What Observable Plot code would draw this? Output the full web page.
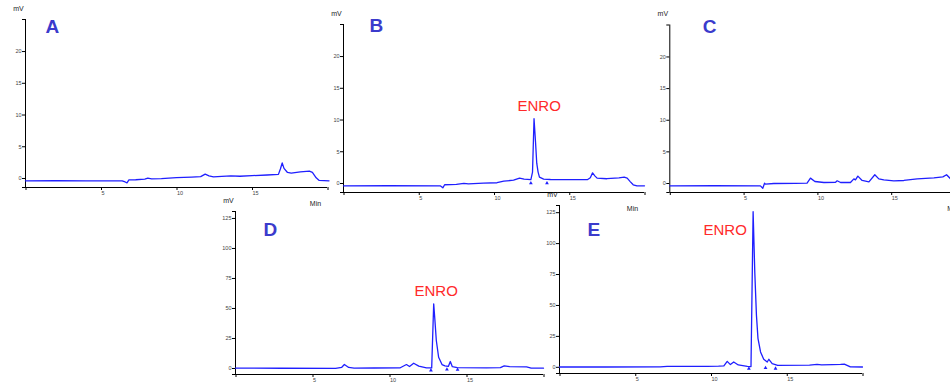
<!DOCTYPE html>
<html><head><meta charset="utf-8">
<script src="https://cdn.jsdelivr.net/npm/d3@7"></script>
<script src="https://cdn.jsdelivr.net/npm/@observablehq/plot@0.6"></script>
<style>
body{margin:0;background:#fff;}
#chart{position:relative;width:950px;height:385px;overflow:hidden;background:#fff;font-family:"Liberation Sans",Arial,sans-serif;}
#chart svg{position:absolute;left:0;top:0;background:none !important;max-width:none !important;overflow:visible;}
</style></head><body><div id="chart"></div>
<script>
// ---- data: [time (min), signal (mV)] ----
const traceA = [[0,-0.37],[2,-0.36],[4,-0.37],[6.4,-0.37],[6.6,-0.55],[6.72,-0.7],[6.85,-0.22],[7.3,-0.2],[7.9,-0.1],[8.1,0.05],[8.35,-0.05],[9,-0.02],[10,0.12],[11,0.22],[11.6,0.3],[11.9,0.68],[12.15,0.42],[12.45,0.25],[13,0.32],[13.6,0.42],[14.2,0.35],[15,0.45],[16,0.55],[16.75,0.65],[16.88,1.5],[17.0,2.45],[17.12,1.6],[17.35,0.95],[17.6,0.85],[18.2,1.05],[18.8,1.15],[19.0,0.95],[19.25,0.1],[19.45,-0.3],[20.1,-0.37]];
const traceB = [[0,-0.37],[3,-0.36],[6.45,-0.38],[6.6,-0.68],[6.72,-0.2],[7.5,-0.15],[8.0,0.02],[8.3,-0.05],[9.3,0.05],[10.2,0.12],[10.65,0.37],[11.3,0.52],[11.7,0.85],[12.0,0.68],[12.45,0.6],[12.56,1.8],[12.66,10.2],[12.76,6.5],[12.84,3.2],[12.93,1.8],[13.02,1.0],[13.3,0.7],[13.75,0.63],[14.6,0.6],[16.2,0.6],[16.4,0.9],[16.55,1.68],[16.7,1.2],[16.85,0.85],[17.5,0.75],[18.3,0.9],[18.65,1.0],[18.85,0.85],[19.05,0.3],[19.25,-0.2],[19.5,-0.37],[20,-0.37]];
const traceC = [[0,-0.37],[3,-0.35],[6.14,-0.37],[6.3,-0.74],[6.42,0.05],[6.48,-0.1],[7.05,0],[8.5,0.02],[9.3,0.05],[9.53,0.85],[9.83,0.32],[10.44,0.16],[11.23,0.2],[11.34,0.43],[11.57,0.16],[12.24,0.16],[12.47,0.74],[12.58,0.58],[12.74,1.17],[13.03,0.48],[13.49,0.27],[13.89,1.38],[14.16,0.74],[14.5,0.58],[15.18,0.43],[15.86,0.48],[16.76,0.74],[17.89,0.9],[18.5,1.05],[18.75,1.38],[19.02,0.74],[19.3,-0.1],[19.6,-0.37],[20,-0.37]];
const traceD = [[0,0.3],[3,0.2],[6.5,0.1],[6.9,1.0],[7.07,3.3],[7.35,0.9],[7.7,0.3],[9,0.4],[10.7,0.6],[11.1,3.3],[11.3,1.6],[11.57,4.4],[11.9,2.0],[12.4,0.6],[12.74,0.5],[12.87,53.9],[12.95,40],[13.04,23.3],[13.19,9.4],[13.41,3.3],[13.6,2.2],[13.82,1.7],[13.95,5.8],[14.08,1.5],[14.4,0.8],[16.3,0.6],[17.2,0.8],[17.45,2.2],[17.8,1.5],[18.9,1.4],[19.2,0.3],[20,0.3]];
const traceE = [[0,0.27],[3,0.27],[6.65,0.3],[7.1,0.8],[9.75,0.8],[10.5,1.0],[10.85,1.2],[11.07,4.8],[11.28,2.2],[11.5,4.3],[11.8,1.9],[12.4,0.8],[12.64,0.6],[12.78,125.8],[12.89,76.9],[13.0,42],[13.1,23.4],[13.27,12.4],[13.48,6.5],[13.71,4.3],[13.82,6.5],[14.04,3.0],[14.4,1.6],[16.5,1.8],[17.0,2.4],[17.3,2.0],[18.0,2.2],[18.55,2.4],[18.8,2.6],[19.2,0.3],[20,0.27]];
// integration markers [time, mV]
const markersB = [[12.45,0.05],[13.52,0.05]];
const markersD = [[12.69,-1.5],[13.73,-0.8],[14.42,-0.9]];
const markersE = [[12.5,-1.0],[13.6,-0.5],[14.26,-1.0]];
// axes
const xDomain = [0, 20];
const xTicks = [0, 5, 10, 15, 20];
const xTickLabels = ["", "5", "10", "15", ""];
const yDomainLow = [-1.42, 25.05];
const yTicksLow = [0, 5, 10, 15, 20];
const yDomainHigh = [-5, 130.8];
const yTicksHigh = [0, 25, 50, 75, 100, 125];
const panelLetters = ["A", "B", "C", "D", "E"];
const peakLabel = "ENRO";
const yUnit = "mV";
const xUnit = "Min";

// ---- layout ----
const W = 970, H = 385;
const layout = [
  {trace: traceA, markers: [], yDomain: yDomainLow, yTicks: yTicksLow, x0: 25, x20: 327, top: 19, bottom: 187, letter: [20, 13], enro: null, showMin: true},
  {trace: traceB, markers: markersB, yDomain: yDomainLow, yTicks: yTicksLow, x0: 343, x20: 644, top: 24, bottom: 192, letter: [26, 7], enro: [174, 86], showMin: true},
  {trace: traceC, markers: [], yDomain: yDomainLow, yTicks: yTicksLow, x0: 669.3, x20: 964.5, top: 24.5, bottom: 192, letter: [33, 7.5], enro: null, showMin: true},
  {trace: traceD, markers: markersD, yDomain: yDomainHigh, yTicks: yTicksHigh, x0: 235, x20: 543, top: 211, bottom: 374, letter: [28, 24], enro: [179, 84], showMin: false},
  {trace: traceE, markers: markersE, yDomain: yDomainHigh, yTicks: yTicksHigh, x0: 559, x20: 862, top: 205, bottom: 373, letter: [28, 30], enro: [144, 29], showMin: false}
];
const lineColor = "#1f1fff";
const letterColor = "#3b3bcc";
const enroColor = "#ff2a2a";
const font = "Liberation Sans, Arial, sans-serif";

const chart = document.getElementById("chart");
layout.forEach((p, i) => {
  const marks = [
    Plot.ruleX([xDomain[0]], {stroke: "#000", strokeWidth: 1}),
    Plot.ruleY([p.yDomain[0]], {stroke: "#000", strokeWidth: 1}),
    Plot.axisY(p.yTicks, {anchor: "left", tickSize: 3, tickPadding: 1, fontSize: 5.5, fill: "#444", label: null}),
    Plot.axisY(p.yDomain, {anchor: "left", tickSize: 3, tickFormat: () => "", label: null}),
    Plot.axisX(xTicks, {anchor: "bottom", tickSize: 3, tickPadding: 1, fontSize: 5.5, fill: "#444", textAnchor: "start", dx: 0.5, tickFormat: d => xTickLabels[xTicks.indexOf(d)], label: null}),
    Plot.line(p.trace, {x: d => d[0], y: d => d[1], stroke: lineColor, strokeWidth: 1.3, strokeLinejoin: "round"}),
    Plot.dot(p.markers, {x: d => d[0], y: d => d[1], symbol: "triangle", r: 1.4, fill: lineColor, stroke: "none"}),
    Plot.text([panelLetters[i]], {text: d => d, frameAnchor: "top-left", dx: p.letter[0], dy: p.letter[1], textAnchor: "start", lineAnchor: "bottom", fontSize: 19, fontWeight: "bold", fill: letterColor, fontFamily: font}),
    Plot.text([yUnit], {text: d => d, frameAnchor: "top-left", dx: -7, dy: -9, textAnchor: "middle", lineAnchor: "bottom", fontSize: 7, fill: "#222", fontFamily: font})
  ];
  if (p.showMin) marks.push(Plot.text([xUnit], {text: d => d, frameAnchor: "bottom-right", dx: -12, dy: 18, textAnchor: "middle", lineAnchor: "bottom", fontSize: 7, fill: "#222", fontFamily: font}));
  if (p.enro) marks.push(Plot.text([peakLabel], {text: d => d, frameAnchor: "top-left", dx: p.enro[0], dy: p.enro[1], textAnchor: "start", lineAnchor: "bottom", fontSize: 15, fill: enroColor, fontFamily: font}));
  const svg = Plot.plot({
    width: W, height: H,
    marginLeft: p.x0, marginRight: W - p.x20, marginTop: p.top, marginBottom: H - p.bottom,
    x: {domain: xDomain},
    y: {domain: p.yDomain},
    style: {fontFamily: font, background: "none", overflow: "visible"},
    marks
  });
  chart.appendChild(svg);
});
</script>
</body></html>
